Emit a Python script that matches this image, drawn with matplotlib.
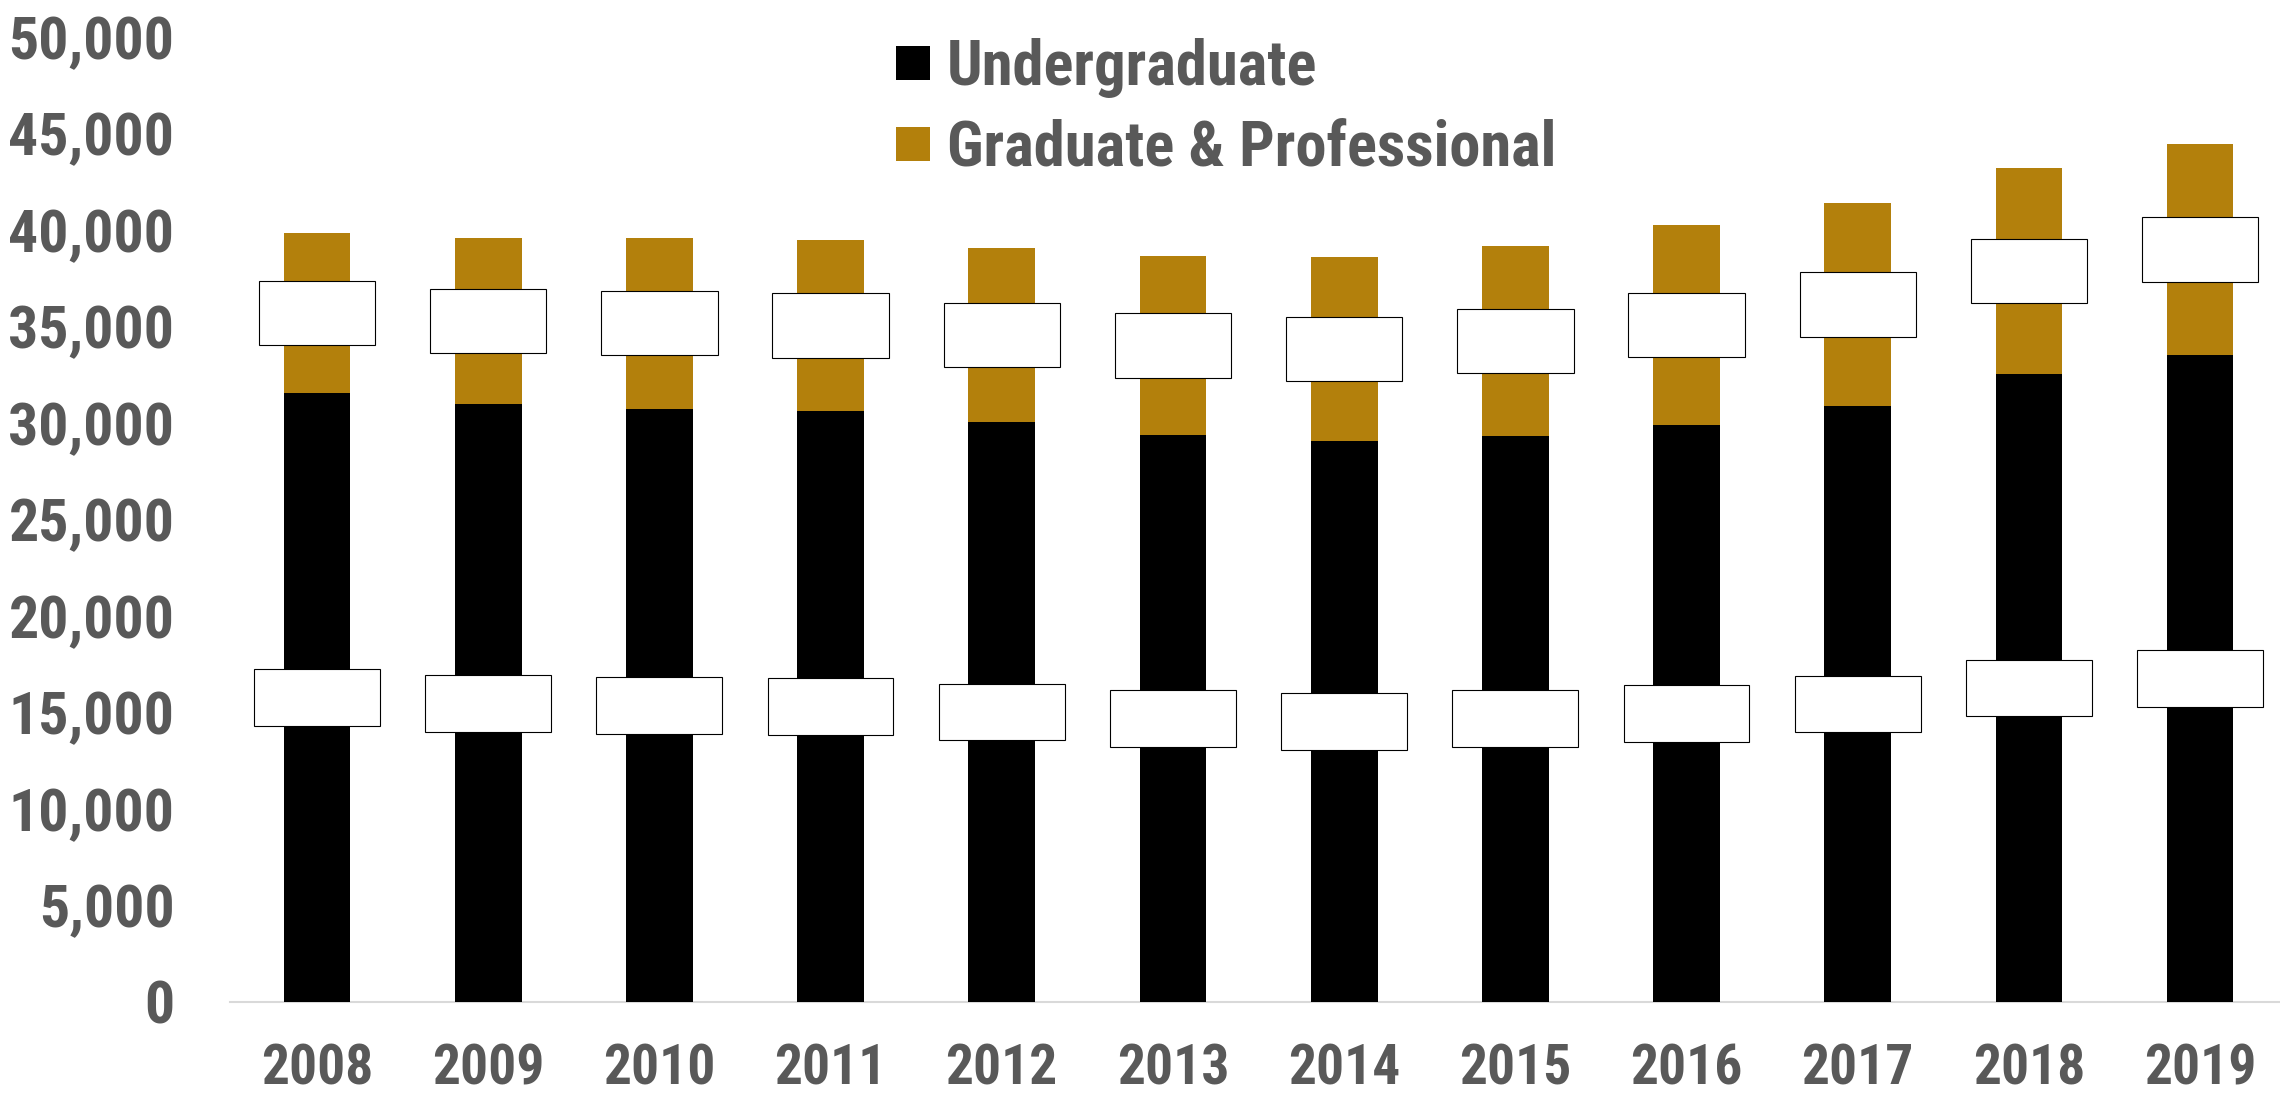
import matplotlib.pyplot as plt
from matplotlib.patches import Rectangle
from matplotlib.lines import Line2D
import numpy as np

years = ["2008", "2009", "2010", "2011", "2012", "2013",
         "2014", "2015", "2016", "2017", "2018", "2019"]
undergrad = [31550, 30980, 30730, 30620, 30050, 29380,
             29070, 29330, 29900, 30880, 32540, 33520]
graduate = [8290, 8610, 8860, 8860, 9020, 9270,
            9530, 9840, 10360, 10520, 10670, 10940]

UG_COLOR = "#000000"
GRAD_COLOR = "#B3800C"
TEXT_COLOR = "#595959"
FONT = ["Roboto Condensed", "DejaVu Sans"]

plt.rcParams["font.family"] = FONT
plt.rcParams["font.weight"] = "bold"

fig = plt.figure(figsize=(22.8, 10.95), dpi=100)
ax = fig.add_axes([230 / 2280, 93 / 1095, 2054 / 2280, 965 / 1095])

x = np.arange(len(years))
bar_w = 0.39
ax.bar(x, undergrad, width=bar_w, color=UG_COLOR, zorder=2)
ax.bar(x, graduate, width=bar_w, bottom=undergrad, color=GRAD_COLOR, zorder=2)

# label boxes in the middle of each segment
for i in range(len(years)):
    ug_mid = undergrad[i] / 2
    gr_mid = undergrad[i] + graduate[i] / 2
    for mid, w, h in [(ug_mid, 0.735, 2950), (gr_mid, 0.68, 3320)]:
        ax.add_patch(Rectangle((x[i] - w / 2, mid - h / 2), w, h,
                               facecolor="white", edgecolor="black",
                               linewidth=0.8, zorder=3))

ax.set_xlim(-0.508, 11.49)
ax.set_ylim(0, 50000)
ax.set_yticks(np.arange(0, 50001, 5000))
ax.set_yticklabels([f"{v:,}" for v in range(0, 50001, 5000)])
ax.set_xticks(x)
ax.set_xticklabels(years)

ax.tick_params(axis="y", length=0, pad=40, labelsize=43, labelcolor=TEXT_COLOR)
ax.tick_params(axis="x", length=0, pad=30, labelsize=40, labelcolor=TEXT_COLOR)

for side in ["top", "right", "left"]:
    ax.spines[side].set_visible(False)
ax.spines["bottom"].set_color("#D9D9D9")
ax.spines["bottom"].set_linewidth(1.5)
ax.spines["bottom"].set_zorder(1)

handles = [
    Line2D([], [], marker="s", linestyle="none", markersize=23.8,
           markerfacecolor=UG_COLOR, markeredgewidth=0),
    Line2D([], [], marker="s", linestyle="none", markersize=23.8,
           markerfacecolor=GRAD_COLOR, markeredgewidth=0),
]
leg = ax.legend(handles, ["Undergraduate", "Graduate & Professional"],
                loc="upper left", bbox_to_anchor=(896 / 2280, 1 - 38 / 1095),
                bbox_transform=fig.transFigure, frameon=False,
                borderpad=0, borderaxespad=0, handlelength=0.53,
                handletextpad=0.29, labelspacing=0.33,
                prop={"family": FONT, "weight": "bold", "size": 45})
for t in leg.get_texts():
    t.set_color(TEXT_COLOR)

fig.savefig("out.png", dpi=100)
